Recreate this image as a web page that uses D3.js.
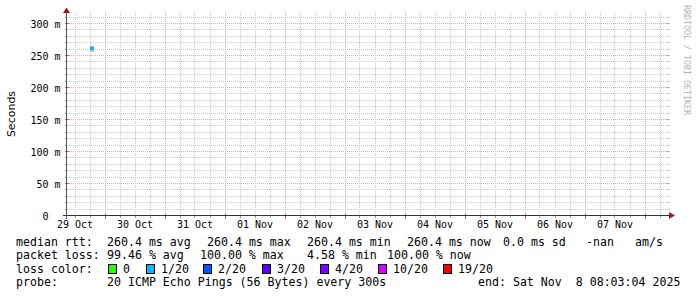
<!DOCTYPE html>
<html><head><meta charset="utf-8">
<script src="https://cdn.jsdelivr.net/npm/d3@7"></script>
<style>html,body{margin:0;padding:0;background:#fff}svg{display:block}text{white-space:pre}</style>
</head><body><script>
// ---- data ----
const startTime = "2025-10-29T09:00:00Z";
const endTime = "2025-11-08T09:00:00Z";
const sampleTimes = ["2025-10-29T18:30:00Z"];
const stepMinutes = 60;
const medianRtt = [260.4];
const smokeMin = [254];
const smokeMax = [264];
const lossPings = [1];
const yTicks = [0, 50, 100, 150, 200, 250, 300];
const yTickLabels = ["0  ", "50 m", "100 m", "150 m", "200 m", "250 m", "300 m"];
const xLabels = ["29 Oct", "30 Oct", "31 Oct", "01 Nov", "02 Nov", "03 Nov", "04 Nov", "05 Nov", "06 Nov", "07 Nov"];
const lossLevels = [0, 1, 2, 3, 4, 10, 19];
const lossLabels = ["0", "1/20", "2/20", "3/20", "4/20", "10/20", "19/20"];
const lossColors = ["#26ff00", "#00b8ff", "#0059ff", "#5e00ff", "#7e00ff", "#dd00ff", "#ff0000"];
const rttStats = ["median rtt:", "260.4 ms avg", "260.4 ms max", "260.4 ms min", "260.4 ms now", "0.0 ms sd", "-nan", "am/s"];
const lossStats = ["packet loss:", "99.46 % avg", "100.00 % max", "4.58 % min", "100.00 % now"];
const probeText = ["probe:", "20 ICMP Echo Pings (56 Bytes) every 300s", "end: Sat Nov  8 08:03:04 2025"];
const lossTitle = "loss color:";
const yTitle = "Seconds";
const watermark = "RRDTOOL / TOBI OETIKER";

// ---- layout ----
const W = 697, H = 297;
const mono = "'DejaVu Sans Mono', monospace";
const svg = d3.select("body").append("svg").attr("width", W).attr("height", H)
  .style("background", "#fff");

const x = d3.scaleUtc().domain([new Date(startTime), new Date(endTime)]).range([67, 667]);
const y = d3.scaleLinear().domain([0, 312.5]).range([215, 15]);
const X0 = 66.5, Y0 = 215.5, X1 = 667.5;

const minorCol = "#c8c8c8", majorCol = "#e3a6a6";
const g = svg.append("g").attr("shape-rendering", "crispEdges");

// horizontal grid
d3.range(10, 320, 10).forEach(v => {
  const yy = Math.round(y(v)) + 0.5;
  const major = v % 50 === 0;
  g.append("line").attr("x1", X0).attr("x2", X1).attr("y1", yy).attr("y2", yy)
    .attr("stroke", major ? majorCol : minorCol).attr("stroke-dasharray", "1,1");
  g.append("line").attr("x1", X0 - 2).attr("x2", X0 + (major ? 2 : 0)).attr("y1", yy).attr("y2", yy)
    .attr("stroke", major ? "#c06060" : "#999");
  g.append("line").attr("x1", X1 - (major ? 2 : 0)).attr("x2", X1 + 2).attr("y1", yy).attr("y2", yy)
    .attr("stroke", major ? majorCol : minorCol);
});
// vertical grid
const minorT = d3.utcHour.every(6).range(x.domain()[0], x.domain()[1]).filter(t => t.getUTCHours() !== 0);
const majorT = d3.utcDay.range(x.domain()[0], x.domain()[1]);
minorT.forEach(t => {
  const xx = Math.round(x(t)) + 0.5;
  g.append("line").attr("x1", xx).attr("x2", xx).attr("y1", 13).attr("y2", Y0)
    .attr("stroke", minorCol).attr("stroke-dasharray", "1,1");
  g.append("line").attr("x1", xx).attr("x2", xx).attr("y1", Y0 - 1).attr("y2", Y0 + 2).attr("stroke", "#999");
});
majorT.forEach(t => {
  const xx = Math.round(x(t)) + 0.5;
  g.append("line").attr("x1", xx).attr("x2", xx).attr("y1", 13).attr("y2", Y0)
    .attr("stroke", majorCol).attr("stroke-dasharray", "1,1");
  g.append("line").attr("x1", xx).attr("x2", xx).attr("y1", Y0 - 2).attr("y2", Y0 + 3).attr("stroke", "#c06060");
});

// data: smoke + median
const stepMs = stepMinutes * 60000;
const colorFor = n => { let c = lossColors[0]; lossLevels.forEach((l, i) => { if (n >= l) c = lossColors[i]; }); return c; };
sampleTimes.forEach((ts, i) => {
  const t0 = new Date(ts), t1 = new Date(+t0 + stepMs);
  const xa = Math.floor(x(t0)), xb = Math.ceil(x(t1));
  g.append("rect").attr("x", xa).attr("width", xb - xa)
    .attr("y", y(smokeMax[i])).attr("height", y(smokeMin[i]) - y(smokeMax[i])).attr("fill", "#bcbcbc");
  g.append("rect").attr("x", xa).attr("width", xb - xa)
    .attr("y", y(medianRtt[i]) - 1).attr("height", 2.6).attr("fill", colorFor(lossPings[i]));
});

// axis lines and arrows
const axisCol = "#333";
g.append("line").attr("x1", 63).attr("x2", 671).attr("y1", Y0).attr("y2", Y0).attr("stroke", axisCol);
g.append("line").attr("x1", X0).attr("x2", X0).attr("y1", 219).attr("y2", 11).attr("stroke", "#555");
svg.append("path").attr("d", `M669,${Y0 - 3.5}L675,${Y0}L669,${Y0 + 3.5}Z`).attr("fill", "#9c1a1a");
svg.append("path").attr("d", `M${X0 - 3.5},13L${X0},7.5L${X0 + 3.5},13Z`).attr("fill", "#9c1a1a");

// y axis labels (d3 axis)
const yAxis = d3.axisLeft(y).tickValues(yTicks).tickFormat((d, i) => yTickLabels[i]).tickSize(0).tickPadding(6);
const ya = svg.append("g").attr("transform", `translate(${X0},0)`).call(yAxis);
ya.select(".domain").remove();
ya.selectAll("text").attr("font-family", mono).attr("font-size", 10).attr("fill", "#000")
  .attr("dy", "0.42em").style("white-space", "pre");

// x axis labels at noon
const noon = xLabels.map((l, i) => d3.utcHour.offset(d3.utcDay.floor(x.domain()[0]), 12 + 24 * i));
const xAxis = d3.axisBottom(x).tickValues(noon).tickFormat((d, i) => xLabels[i]).tickSize(0).tickPadding(6);
const xa = svg.append("g").attr("transform", `translate(0,${Y0 - 0.5})`).call(xAxis);
xa.select(".domain").remove();
xa.selectAll("text").attr("font-family", mono).attr("font-size", 10).attr("fill", "#000");

// y title
svg.append("text").attr("transform", "translate(15,114) rotate(-90)").attr("text-anchor", "middle")
  .attr("font-family", "'DejaVu Sans', sans-serif").attr("font-size", 11).attr("fill", "#000").text(yTitle);

// watermark
svg.append("text").attr("transform", "translate(684,5) rotate(90)")
  .attr("font-family", mono).attr("font-size", 8.3).attr("fill", "#b4b4b4").text(watermark);

// legend
const lf = 11.6;
const put = (xx, yy, s) => svg.append("text").attr("x", xx).attr("y", yy).attr("font-family", mono)
  .attr("font-size", lf).attr("fill", "#000").text(s);
const rttX = [16, 107, 207, 307, 407, 503, 586, 635];
rttStats.forEach((s, i) => put(rttX[i], 245.5, s));
const lossX = [16, 107, 200, 307, 387];
lossStats.forEach((s, i) => put(lossX[i], 259, s));
put(16, 272.5, lossTitle);
const sqX = [108, 146, 203, 262, 320, 378, 443];
lossLabels.forEach((s, i) => {
  svg.append("rect").attr("x", sqX[i] + 0.5).attr("y", 264.5).attr("width", 8).attr("height", 9)
    .attr("fill", lossColors[i]).attr("stroke", "#000").attr("shape-rendering", "crispEdges");
  put(sqX[i] + 15, 272.5, s);
});
const probeX = [16, 107, 478];
probeText.forEach((s, i) => put(probeX[i], 286, s));
</script></body></html>
